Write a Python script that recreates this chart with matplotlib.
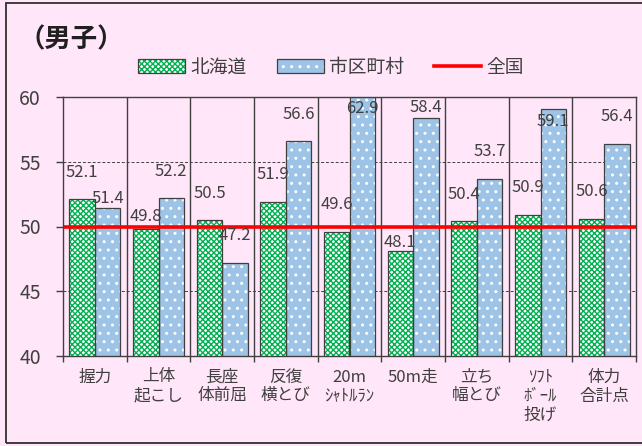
import matplotlib
matplotlib.use("Agg")
import matplotlib.pyplot as plt
from matplotlib.patches import Patch, Rectangle
from matplotlib.lines import Line2D
import numpy as np

plt.rcParams['font.family'] = ['Noto Sans CJK JP', 'DejaVu Sans']

# ======================
# DATA
# ======================
categories = ["握力", "上体\n起こし", "長座\n体前屈", "反復\n横とび", "20m\nｼｬﾄﾙﾗﾝ",
              "50m走", "立ち\n幅とび", "ｿﾌﾄ\nﾎﾞｰﾙ\n投げ", "体力\n合計点"]
hokkaido = [52.1, 49.8, 50.5, 51.9, 49.6, 48.1, 50.4, 50.9, 50.6]
shichoson = [51.4, 52.2, 47.2, 56.6, 62.9, 58.4, 53.7, 59.1, 56.4]
zenkoku = 50.0
series_names = ["北海道", "市区町村", "全国"]

# ======================
# STYLE
# ======================
BG = "#FFE6F8"
TXT = "#404040"
GREEN = "#00B050"
BLUE = "#9DC3E6"
YMIN, YMAX = 40, 60

# label offset above bar top (pixels); a few are nudged to avoid overlap
LABEL_OFF = 27
label_adjust = {("g", 1): 13, ("g", 5): 9,
                ("b", 0): 10, ("b", 4): -12, ("b", 5): 10, ("b", 7): -13}

fig = plt.figure(figsize=(6.42, 4.46), dpi=100, facecolor=BG)
ax = fig.add_axes([63 / 642, 1 - 356 / 446, (636 - 63) / 642, (356 - 97) / 446])
ax.set_facecolor(BG)

# outer frame
fig.patches.append(Rectangle((6 / 642, 1 - 443 / 446), 1.0, (443 - 3) / 446,
                             transform=fig.transFigure, fill=False,
                             edgecolor="#303030", lw=1.3, zorder=0))

x = np.arange(len(categories))
w = 0.4

plt.rcParams['hatch.linewidth'] = 1.0
ax.bar(x - w / 2, hokkaido, w, facecolor="white", edgecolor=GREEN,
       hatch="xxxxxx", lw=0, zorder=2)
ax.bar(x - w / 2, hokkaido, w, fill=False, edgecolor=TXT, lw=0.9, zorder=3)
ax.bar(x + w / 2, shichoson, w, facecolor=BLUE, edgecolor="white",
       hatch="..", lw=0, zorder=2)
ax.bar(x + w / 2, shichoson, w, fill=False, edgecolor=TXT, lw=0.9, zorder=3)

# national average line
ax.axhline(zenkoku, color="red", lw=2.6, zorder=4)

# grid and separators
for yv in (45, 55):
    ax.axhline(yv, color=TXT, lw=0.7, ls=(0, (3, 2)), zorder=1)
for xv in np.arange(0.5, len(categories) - 0.5, 1):
    ax.axvline(xv, color=TXT, lw=1, zorder=1)

ax.set_xlim(-0.5, len(categories) - 0.5)
ax.set_ylim(YMIN, YMAX)
ax.set_yticks([40, 45, 50, 55, 60])
ax.tick_params(axis="y", length=5, width=1, color=TXT, labelcolor=TXT,
               labelsize=14, pad=11)
ax.set_xticks(x)
ax.set_xticklabels(categories, fontsize=12, color=TXT, linespacing=1.15, va="top")
ax.tick_params(axis="x", length=0, pad=9)
ax.set_xticks(np.arange(-0.5, len(categories), 1), minor=True)
ax.tick_params(axis="x", which="minor", length=4, width=1, color=TXT)
for s in ax.spines.values():
    s.set_color(TXT)
    s.set_linewidth(1)
    s.set_zorder(5)

# value labels
for key, xs, vals in (("g", x - w / 2, hokkaido), ("b", x + w / 2, shichoson)):
    for i, (xi, v) in enumerate(zip(xs, vals)):
        off = label_adjust.get((key, i), LABEL_OFF)
        ax.annotate(f"{v:.1f}", (xi, min(v, YMAX)), xytext=(0, off * 0.72),
                    textcoords="offset points", ha="center", va="center",
                    fontsize=12, color=TXT, zorder=6, annotation_clip=False)

# title
fig.text(18 / 642, 1 - 40 / 446, "（男子）", fontsize=19, fontweight="bold",
         color="#202020", va="center", ha="left")

# legend
h_green = (Patch(facecolor="white", edgecolor=GREEN, hatch="xxxxxx", lw=0),
           Patch(fill=False, edgecolor=TXT, lw=0.9))
h_blue = (Patch(facecolor=BLUE, edgecolor="white", hatch="..", lw=0),
          Patch(fill=False, edgecolor=TXT, lw=0.9))
h_red = Line2D([], [], color="red", lw=2.6)
fig.legend([h_green, h_blue, h_red], series_names, loc="center",
           bbox_to_anchor=(331 / 642, 1 - 67 / 446), ncol=3, frameon=False,
           fontsize=13.5, handlelength=2.5, handleheight=0.75, handletextpad=0.3,
           columnspacing=1.6, labelcolor=TXT)

fig.savefig("out.png", dpi=100, facecolor=BG)
